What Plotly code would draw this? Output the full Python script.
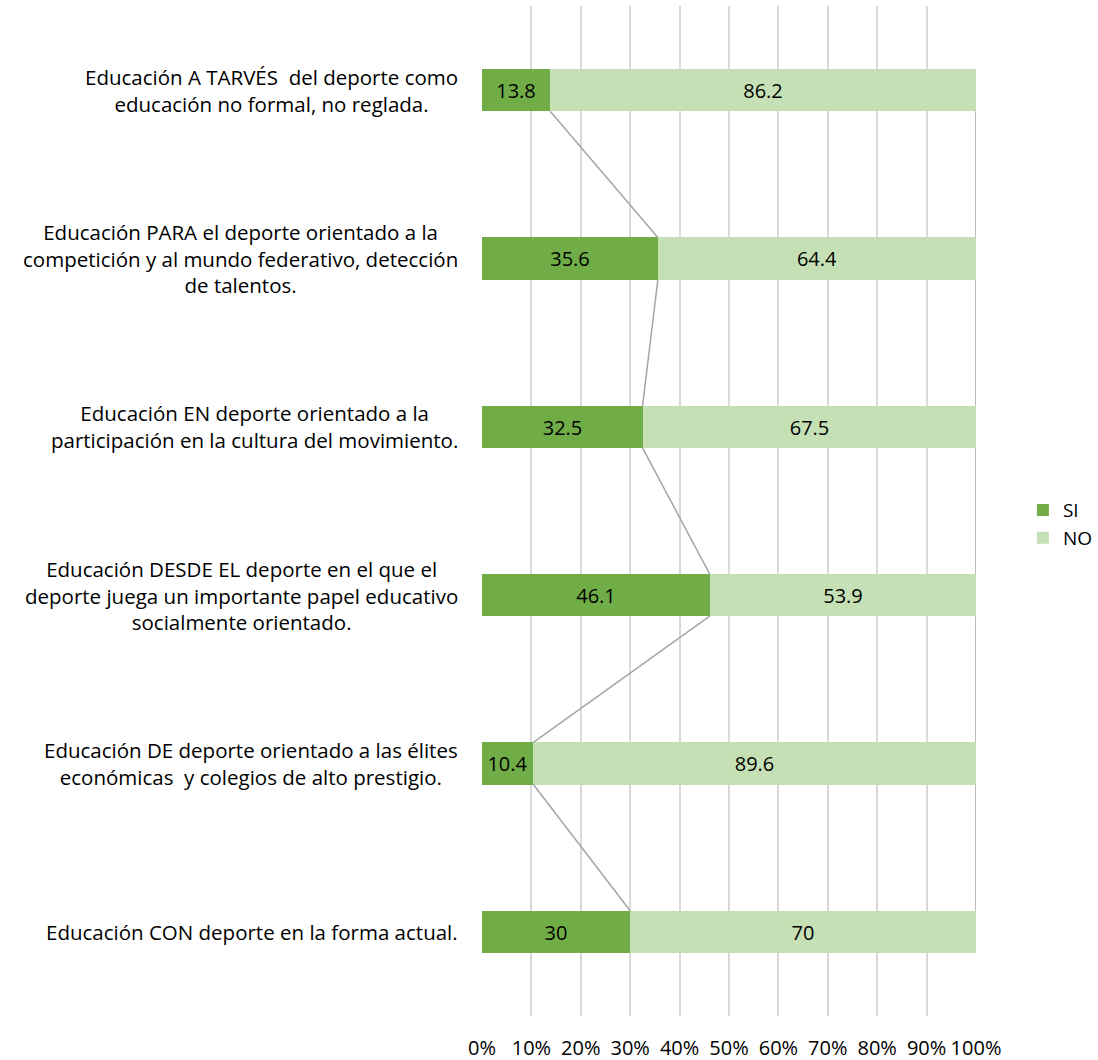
import plotly.graph_objects as go

categories = [
    "Educación A TARVÉS  del deporte como<br>educación no formal, no reglada.",
    "Educación PARA el deporte orientado a la<br>competición y al mundo federativo, detección<br>de talentos.",
    "Educación EN deporte orientado a la<br>participación en la cultura del movimiento.",
    "Educación DESDE EL deporte en el que el<br>deporte juega un importante papel educativo<br>socialmente orientado.",
    "Educación DE deporte orientado a las élites<br>económicas  y colegios de alto prestigio.",
    "Educación CON deporte en la forma actual.",
]
si_values = [13.8, 35.6, 32.5, 46.1, 10.4, 30]
no_values = [86.2, 64.4, 67.5, 53.9, 89.6, 70]
tick_vals = [0, 10, 20, 30, 40, 50, 60, 70, 80, 90, 100]
tick_text = ["0%", "10%", "20%", "30%", "40%", "50%", "60%", "70%", "80%", "90%", "100%"]

FONT = "Open Sans"
pos = list(range(len(categories)))
bw = 0.25

fig = go.Figure()
fig.add_trace(go.Bar(
    y=pos, x=si_values, orientation="h", name="SI", width=bw,
    marker=dict(color="#70ad47", line=dict(width=0)),
    text=[f"{v:g}" for v in si_values], textposition="inside", insidetextanchor="middle",
    textfont=dict(color="black", size=20, family=FONT), constraintext="none",
))
fig.add_trace(go.Bar(
    y=pos, x=no_values, orientation="h", name="NO", width=bw,
    marker=dict(color="#c5e0b4", line=dict(width=0)),
    text=[f"{v:g}" for v in no_values], textposition="inside", insidetextanchor="middle",
    textfont=dict(color="black", size=20, family=FONT), constraintext="none",
))

# series lines
lx, ly, nx, ny = [], [], [], []
for i in range(len(categories) - 1):
    lx += [si_values[i], si_values[i + 1], None]
    ly += [pos[i] + bw / 2, pos[i + 1] - bw / 2, None]
    tot_i = si_values[i] + no_values[i]
    tot_j = si_values[i + 1] + no_values[i + 1]
    nx += [tot_i, tot_j, None]
    ny += [pos[i] + bw / 2, pos[i + 1] - bw / 2, None]
fig.add_trace(go.Scatter(x=lx, y=ly, mode="lines", line=dict(color="#a5a5a5", width=1.5),
                         showlegend=False, hoverinfo="skip"))
fig.add_trace(go.Scatter(x=nx, y=ny, mode="lines", line=dict(color="#a5a5a5", width=1.5),
                         showlegend=False, hoverinfo="skip"))

for p, c in zip(pos, categories):
    fig.add_annotation(x=-0.045, xref="paper", y=p, yref="y", text=c, showarrow=False,
                       xanchor="right", yanchor="middle", align="center",
                       font=dict(size=20.5, color="black", family=FONT))

fig.update_layout(
    width=1098, height=1060,
    margin=dict(l=482, r=122, t=6, b=44, autoexpand=False),
    paper_bgcolor="white", plot_bgcolor="white",
    barmode="stack", bargap=0,
    font=dict(family=FONT, size=20, color="black"),
    showlegend=True,
    legend=dict(x=1.095, y=0.487, xanchor="left", yanchor="middle", traceorder="normal",
                font=dict(size=19, family=FONT, color="black"), itemwidth=30,
                tracegroupgap=0, bgcolor="rgba(0,0,0,0)"),
    xaxis=dict(range=[0, 100], tickvals=tick_vals, ticktext=tick_text, showgrid=True,
               gridcolor="#d9d9d9", gridwidth=1.5, zeroline=False, showline=False,
               ticks="", ticklabelstandoff=18, tickfont=dict(size=20, family=FONT, color="black")),
    yaxis=dict(range=[5.5, -0.5], showticklabels=False, showgrid=False, zeroline=False,
               showline=False, ticks=""),
)

fig.write_html("out.html", config={"displayModeBar": False},
               post_script="document.body.style.margin='0';")
